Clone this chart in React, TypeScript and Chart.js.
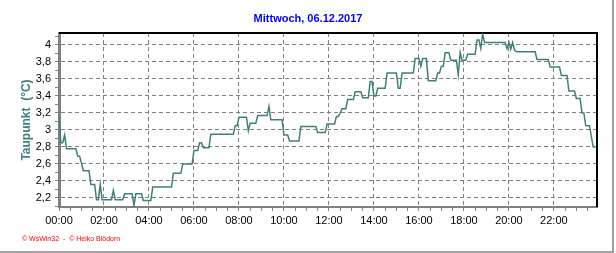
import { useEffect, useRef } from 'react';
import { Chart, registerables } from 'chart.js';

Chart.register(...registerables);

const FONT = '"Liberation Sans", Arial, sans-serif';

const TITLE = 'Mittwoch, 06.12.2017';
const Y_TITLE = 'Taupunkt  (°C)';
const FOOTER = '© WsWin32  -  © Heiko Blödorn';

// dew point in °C, one value every 5 minutes from 00:00 to 23:50
const SAMPLE_STEP_MIN = 5;
const DEW_POINT = [
  3.14, 2.85, 2.85, 2.94, 2.78, 2.78, 2.78, 2.78, 2.78, 2.78, 2.69, 2.69,
  2.61, 2.52, 2.52, 2.52, 2.52, 2.36, 2.36, 2.36, 2.18, 2.18, 2.36, 2.18,
  2.18, 2.18, 2.18, 2.18, 2.18, 2.29, 2.18, 2.18, 2.18, 2.18, 2.18, 2.25,
  2.25, 2.25, 2.25, 2.25, 2.11, 2.25, 2.25, 2.25, 2.25, 2.17, 2.17, 2.17,
  2.17, 2.17, 2.33, 2.33, 2.33, 2.33, 2.33, 2.33, 2.33, 2.33, 2.33, 2.33,
  2.33, 2.49, 2.49, 2.49, 2.49, 2.49, 2.6, 2.6, 2.6, 2.6, 2.6, 2.6,
  2.76, 2.76, 2.76, 2.85, 2.85, 2.79, 2.79, 2.79, 2.79, 2.95, 2.95, 2.95,
  2.95, 2.95, 2.95, 2.95, 2.95, 2.95, 2.95, 2.95, 2.95, 2.95, 3.05, 3.05,
  3.15, 3.15, 3.15, 3.15, 3.15, 2.99, 3.08, 3.08, 3.08, 3.08, 3.17, 3.17,
  3.17, 3.17, 3.17, 3.17, 3.28, 3.12, 3.12, 3.12, 3.12, 3.12, 3.12, 3.12,
  2.94, 2.94, 2.94, 2.87, 2.87, 2.87, 2.87, 2.87, 2.87, 3.04, 3.04, 3.04,
  3.04, 3.04, 3.04, 3.04, 3.04, 3.04, 2.97, 2.97, 2.97, 2.97, 2.97, 3.07,
  3.07, 3.07, 3.07, 3.07, 3.16, 3.16, 3.2, 3.25, 3.25, 3.25, 3.36, 3.36,
  3.36, 3.36, 3.45, 3.45, 3.45, 3.45, 3.38, 3.38, 3.38, 3.38, 3.57, 3.57,
  3.4, 3.4, 3.49, 3.49, 3.49, 3.49, 3.49, 3.67, 3.67, 3.67, 3.67, 3.67,
  3.67, 3.49, 3.49, 3.67, 3.67, 3.67, 3.67, 3.67, 3.67, 3.67, 3.84, 3.84,
  3.84, 3.75, 3.84, 3.84, 3.84, 3.58, 3.58, 3.58, 3.58, 3.58, 3.67, 3.67,
  3.75, 3.75, 3.91, 3.91, 3.91, 3.82, 3.82, 3.82, 3.82, 3.65, 3.91, 3.82,
  3.82, 3.82, 3.89, 3.89, 3.89, 3.89, 3.89, 4.06, 4.06, 3.96, 4.13, 4.03,
  4.03, 4.03, 4.03, 4.03, 4.03, 4.03, 4.03, 4.03, 4.03, 4.03, 4.03, 3.96,
  4.03, 3.95, 4.03, 3.94, 3.92, 3.92, 3.92, 3.92, 3.92, 3.92, 3.92, 3.92,
  3.92, 3.92, 3.92, 3.83, 3.83, 3.83, 3.83, 3.83, 3.83, 3.83, 3.74, 3.74,
  3.74, 3.74, 3.74, 3.74, 3.64, 3.64, 3.64, 3.64, 3.46, 3.46, 3.46, 3.46,
  3.37, 3.37, 3.37, 3.2, 3.2, 3.05, 3.05, 3.05, 2.92, 2.8, 2.8,
];

const X_TICK_LABELS = [
  '00:00', '02:00', '04:00', '06:00', '08:00', '10:00',
  '12:00', '14:00', '16:00', '18:00', '20:00', '22:00',
];
const X_LABEL_STEP_MIN = 120;
const X_MINOR_STEP_MIN = 30;
const X_MIN = 0;
const X_MAX = 1435;

const Y_TICK_VALUES = [2.2, 2.4, 2.6, 2.8, 3.0, 3.2, 3.4, 3.6, 3.8, 4.0];
const Y_TICK_LABELS = ['2,2', '2,4', '2,6', '2,8', '3', '3,2', '3,4', '3,6', '3,8', '4'];
const Y_MINOR_STEP = 0.1;
const Y_MIN = 2.094;
const Y_MAX = 4.141;

const LINE_COLOR = '#3f807c';
const GRID_COLOR = '#808080';

const yLabelIndex = (v: number) => Y_TICK_VALUES.findIndex((t) => Math.abs(t - v) < 1e-6);

const framePlugin = {
  id: 'frame',
  beforeDatasetsDraw(chart: any) {
    const { ctx, chartArea: a } = chart;
    ctx.save();
    ctx.strokeStyle = '#000';
    ctx.lineWidth = 2;
    ctx.beginPath();
    ctx.moveTo(a.left, a.top);
    ctx.lineTo(a.right, a.top);
    ctx.lineTo(a.right, a.bottom);
    ctx.stroke();
    ctx.restore();
  },
  afterDraw(chart: any) {
    const { ctx, width, height } = chart;
    ctx.save();
    ctx.fillStyle = '#a0a0a0';
    ctx.fillRect(width - 4, 0, 2, height);
    ctx.fillRect(0, height - 2, width - 2, 2);
    ctx.fillStyle = '#ff0000';
    ctx.font = '7px ' + FONT;
    ctx.textBaseline = 'middle';
    ctx.textAlign = 'left';
    ctx.fillText(FOOTER, 22, 239);
    ctx.restore();
  },
};

export default function App() {
  const ref = useRef<HTMLCanvasElement | null>(null);

  useEffect(() => {
    if (!ref.current) return;
    Chart.defaults.font.family = FONT;
    const chart = new Chart(ref.current, {
      type: 'line',
      data: {
        datasets: [
          {
            data: DEW_POINT.map((v, i) => ({ x: i * SAMPLE_STEP_MIN, y: v })),
            borderColor: LINE_COLOR,
            borderWidth: 1.5,
            pointRadius: 0,
            tension: 0,
            fill: false,
          },
        ],
      },
      options: {
        animation: false,
        responsive: false,
        devicePixelRatio: 1,
        layout: { padding: { left: 0, right: 0, top: 0, bottom: 26 } },
        plugins: {
          legend: { display: false },
          tooltip: { enabled: false },
          title: {
            display: true,
            text: TITLE,
            color: '#0000ff',
            font: { family: FONT, size: 11, weight: 'bold' },
            padding: { top: 12.4, bottom: 7.4 },
          },
        },
        scales: {
          x: {
            type: 'linear',
            min: X_MIN,
            max: X_MAX,
            afterBuildTicks: (s: any) => {
              const t = [];
              for (let m = X_MIN; m <= X_MAX; m += X_MINOR_STEP_MIN) t.push({ value: m });
              s.ticks = t;
            },
            afterFit: (s: any) => {
              s.height = 20;
            },
            ticks: {
              autoSkip: false,
              maxRotation: 0,
              minRotation: 0,
              padding: 3,
              color: '#000',
              font: { family: FONT, size: 11 },
              callback: (v: any) =>
                v % X_LABEL_STEP_MIN === 0 ? X_TICK_LABELS[v / X_LABEL_STEP_MIN] ?? '' : '',
            },
            grid: {
              color: (c: any) =>
                c.tick && c.tick.value % X_LABEL_STEP_MIN === 0 ? GRID_COLOR : 'rgba(0,0,0,0)',
              tickColor: GRID_COLOR,
              tickLength: 4,
              lineWidth: 1,
            },
            border: { display: true, color: GRID_COLOR, width: 2, dash: [4, 3] },
          },
          y: {
            type: 'linear',
            min: Y_MIN,
            max: Y_MAX,
            afterBuildTicks: (s: any) => {
              const t = [];
              const start = Math.ceil(Y_MIN / Y_MINOR_STEP);
              const end = Math.floor(Y_MAX / Y_MINOR_STEP);
              for (let k = start; k <= end; k++) t.push({ value: Math.round(k * Y_MINOR_STEP * 10) / 10 });
              s.ticks = t;
            },
            afterFit: (s: any) => {
              s.width = 59;
            },
            ticks: {
              autoSkip: false,
              padding: 4,
              color: '#000',
              font: { family: FONT, size: 11 },
              callback: (v: any) => {
                const i = yLabelIndex(v);
                return i >= 0 ? Y_TICK_LABELS[i] : '';
              },
            },
            grid: {
              color: (c: any) => (c.tick && yLabelIndex(c.tick.value) >= 0 ? GRID_COLOR : 'rgba(0,0,0,0)'),
              tickColor: GRID_COLOR,
              tickLength: 4,
              lineWidth: 1,
            },
            border: { display: true, color: GRID_COLOR, width: 3, dash: [4, 3] },
            title: {
              display: true,
              text: Y_TITLE,
              color: '#408080',
              font: { family: FONT, size: 12, weight: 'bold' },
              padding: { top: 19.5, bottom: 0 },
            },
          },
          yRight: {
            type: 'linear',
            position: 'right',
            display: true,
            afterFit: (s: any) => {
              s.width = 19;
            },
            ticks: { display: false },
            grid: { display: false, drawOnChartArea: false },
            border: { display: false },
          },
        },
      },
      plugins: [framePlugin],
    } as any);
    return () => chart.destroy();
  }, []);

  return (
    <div style={{ position: 'absolute', left: 0, top: 0, width: 616, height: 253, background: '#fff' }}>
      <canvas ref={ref} width={616} height={253} />
    </div>
  );
}
